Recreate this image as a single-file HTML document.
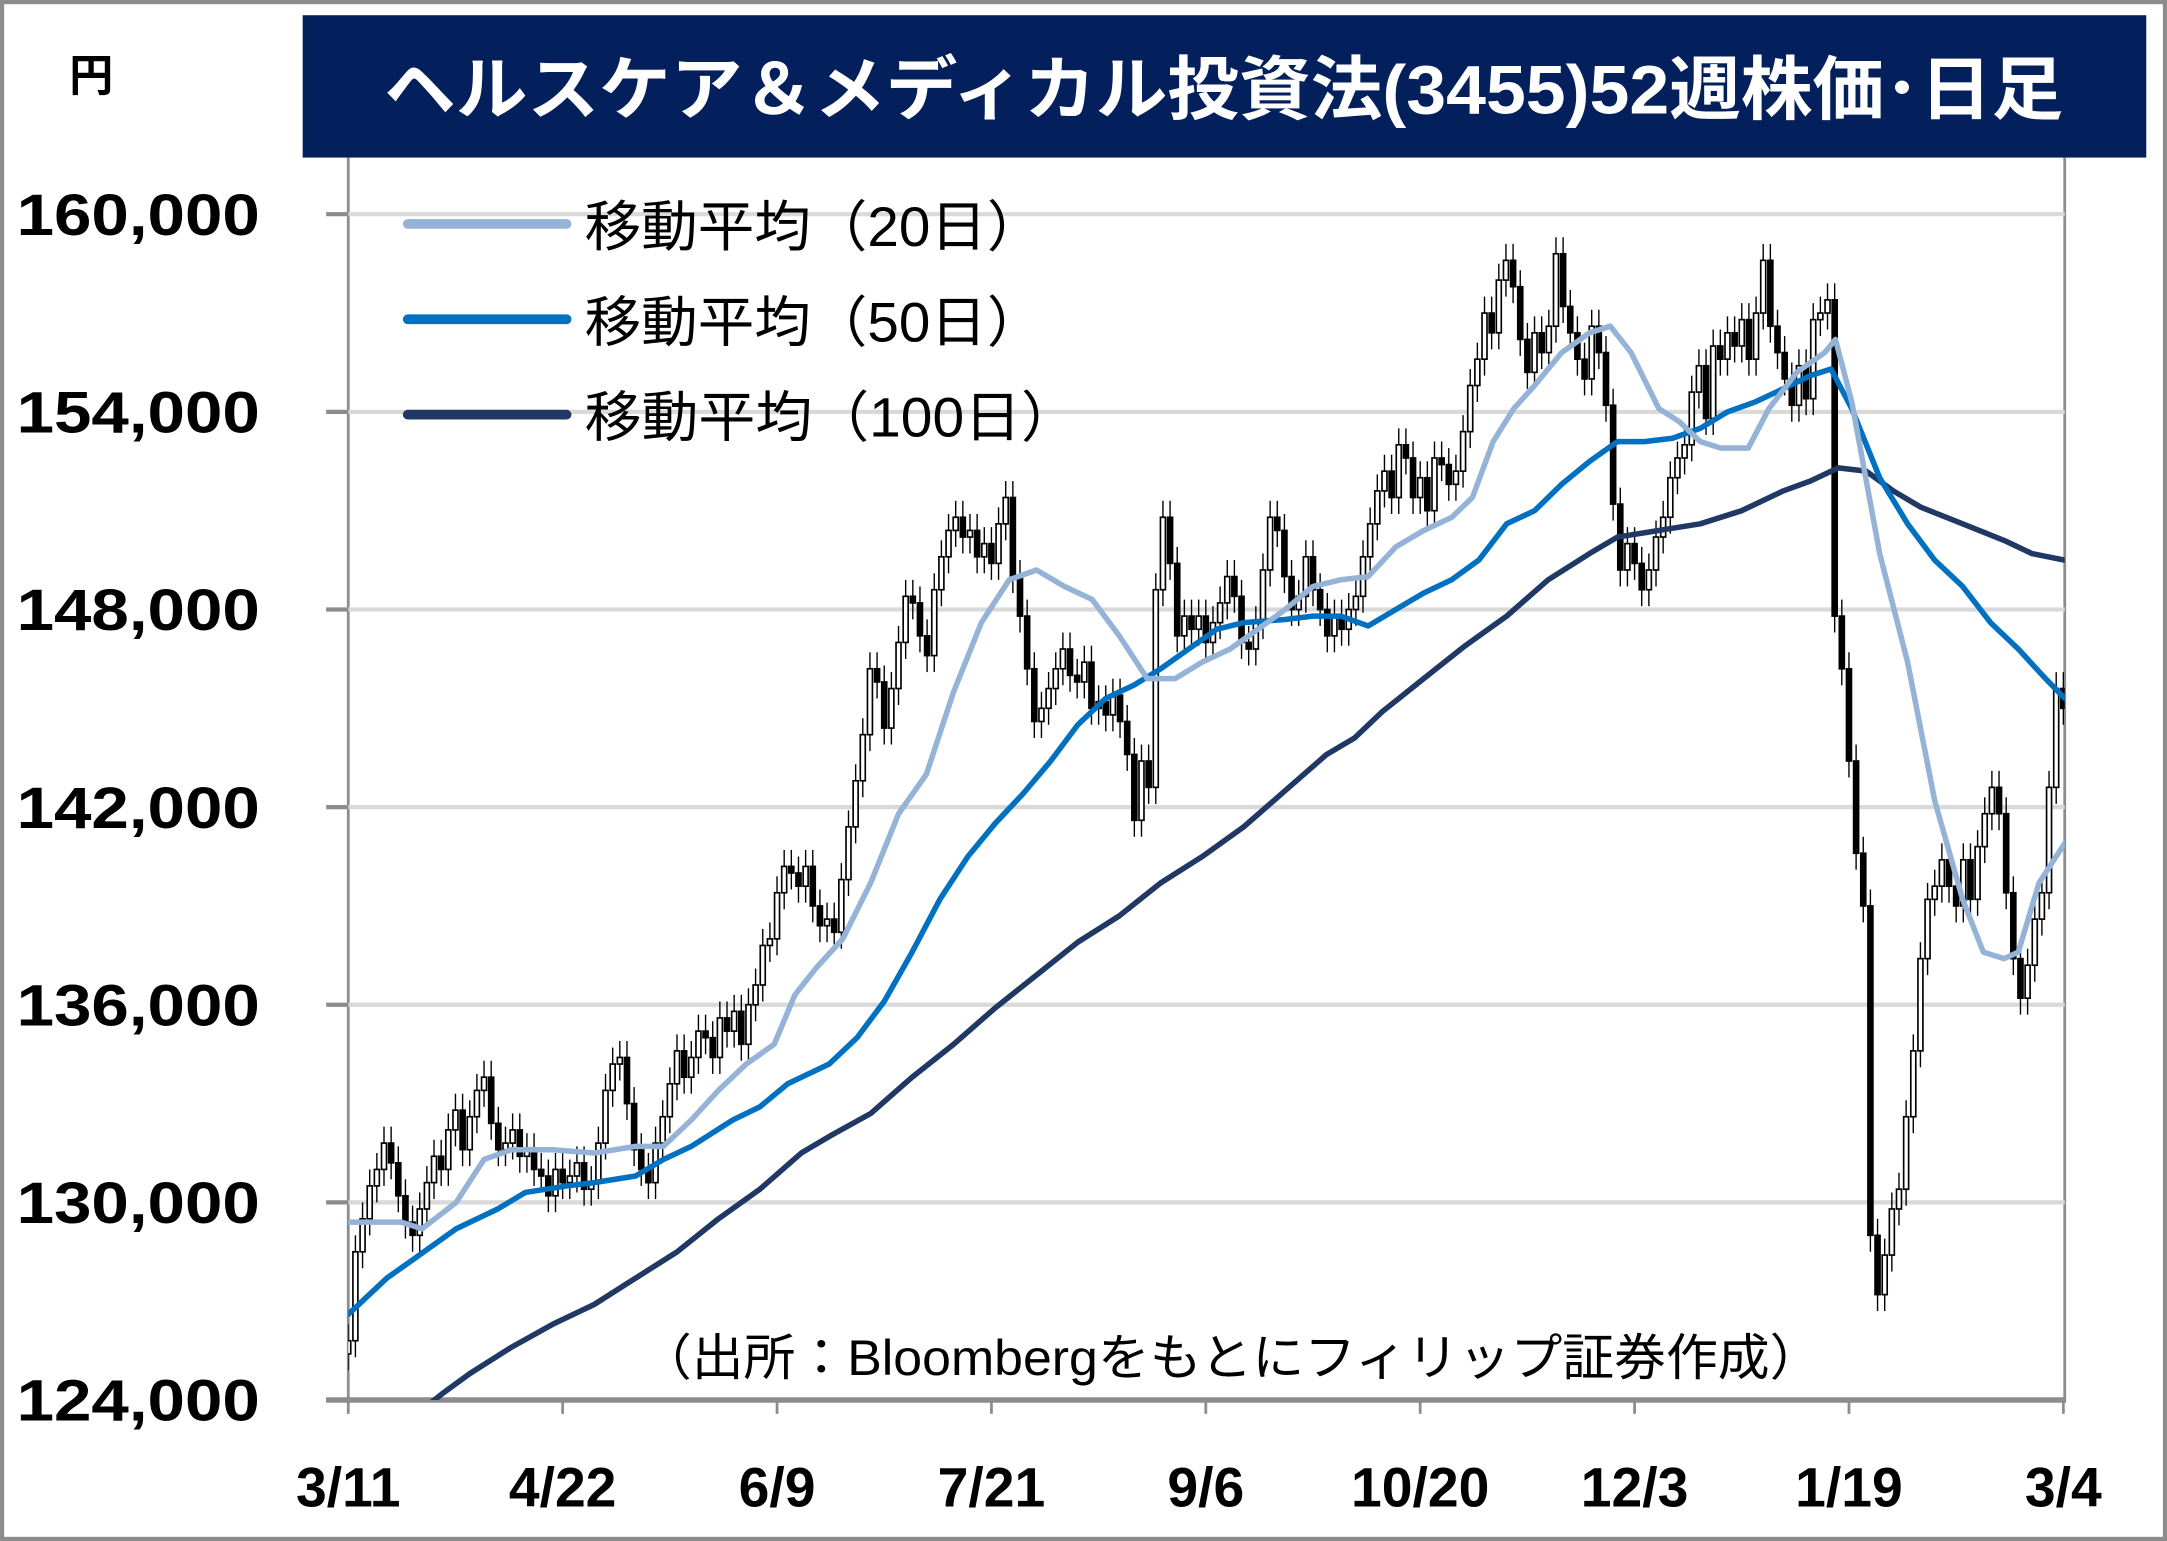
<!DOCTYPE html>
<html><head><meta charset="utf-8"><style>
html,body{margin:0;padding:0;background:#fff}
svg{display:block}
</style></head><body>
<svg id="chart" width="2167" height="1541" viewBox="0 0 1568 1115" xmlns="http://www.w3.org/2000/svg" font-family="'Liberation Sans','Noto Sans CJK JP',sans-serif">
<rect x="1.5" y="1.5" width="1565" height="1112" fill="#fff" stroke="#8c8c8c" stroke-width="3"/>
<rect x="219" y="11" width="1334" height="103" fill="#03205c"/>
<text x="278" y="82" fill="#fff" font-size="50" font-weight="bold" textLength="1215" lengthAdjust="spacingAndGlyphs">ヘルスケア＆メディカル投資法(3455)52週株価･日足</text>
<text x="50" y="66" font-size="32" font-weight="bold">円</text>
<line x1="252" y1="114" x2="252" y2="1013" stroke="#8c8c8c" stroke-width="2"/>
<line x1="1494" y1="114" x2="1494" y2="1013" stroke="#8c8c8c" stroke-width="2"/>
<g id="grid"></g>
<g id="ylabels"></g>
<g id="xaxis"></g>
<defs><clipPath id="plotclip"><rect x="252" y="114" width="1242" height="899"/></clipPath></defs>
<g id="candles" clip-path="url(#plotclip)"></g>
<g id="mas" clip-path="url(#plotclip)"></g>
<g>
<line x1="295" y1="162" x2="410" y2="162" stroke="#95b3d7" stroke-width="7" stroke-linecap="round"/>
<text x="423" y="178" font-size="40" textLength="332" lengthAdjust="spacingAndGlyphs">移動平均（20日）</text>
<line x1="295" y1="231" x2="410" y2="231" stroke="#0070c0" stroke-width="7" stroke-linecap="round"/>
<text x="423" y="247" font-size="40" textLength="332" lengthAdjust="spacingAndGlyphs">移動平均（50日）</text>
<line x1="295" y1="300" x2="410" y2="300" stroke="#1f3864" stroke-width="7" stroke-linecap="round"/>
<text x="423" y="316" font-size="40" textLength="357" lengthAdjust="spacingAndGlyphs">移動平均（100日）</text>
</g>
<text x="463" y="995" font-size="36" textLength="855" lengthAdjust="spacingAndGlyphs">（出所：Bloombergをもとにフィリップ証券作成）</text>
</svg>
<script>
const yTicks=[124000,130000,136000,142000,148000,154000,160000];
const yTickLabels=["124,000","130,000","136,000","142,000","148,000","154,000","160,000"];
const xTickDays=[0,30,60,90,120,150,180,210,240];
const xTickLabels=["3/11","4/22","6/9","7/21","9/6","10/20","12/3","1/19","3/4"];
const closes=[125.8,128.5,129.5,130.5,131.0,131.8,131.2,130.2,129.4,129.0,
129.8,130.6,131.4,131.0,132.2,132.8,131.6,132.6,133.4,133.8,
132.4,131.6,131.8,132.2,131.4,131.6,131.0,130.8,130.2,131.0,
130.6,130.8,131.2,130.4,130.6,131.8,133.4,134.2,134.4,133.0,
131.6,131.0,130.6,131.8,132.6,133.6,134.6,133.8,134.4,135.2,
135.0,134.4,135.6,135.2,135.8,134.8,136.0,136.6,137.8,138.0,
139.4,140.2,140.0,139.6,140.2,139.0,138.4,138.6,138.2,139.8,
141.4,142.8,144.2,146.2,145.8,144.4,145.6,147.0,148.4,148.2,
147.2,146.6,148.6,149.6,150.4,150.8,150.2,150.4,149.6,150.0,
149.4,150.6,151.4,149.0,147.8,146.2,144.6,145.0,145.6,146.2,
146.8,146.0,145.8,146.4,145.0,145.2,144.8,145.4,144.6,143.6,
141.6,143.4,142.6,148.6,150.8,149.4,147.2,147.8,147.4,147.8,
147.0,147.6,148.2,149.0,148.4,147.0,146.8,147.6,149.2,150.8,
150.4,149.0,148.0,148.4,149.6,148.6,148.0,147.2,147.8,147.4,
148.0,148.4,149.6,150.6,151.6,152.2,151.4,153.0,152.6,151.4,
152.0,151.0,152.6,152.4,151.8,152.2,153.4,154.8,155.6,157.0,
156.4,158.0,158.6,157.8,156.2,155.2,156.4,155.8,156.6,158.8,
157.2,156.4,155.6,155.0,156.6,155.8,154.2,151.2,149.2,150.0,
149.4,148.6,149.2,150.2,150.8,152.0,152.6,153.0,154.6,155.4,
153.8,156.0,155.6,156.4,156.0,156.8,155.6,157.0,158.6,156.6,
155.8,155.0,154.2,155.4,154.4,156.8,157.0,157.4,147.8,146.2,
143.4,140.6,139.0,129.0,127.2,128.4,129.8,130.4,132.6,134.6,
137.4,139.2,139.6,140.4,139.6,139.0,140.4,139.2,140.8,141.8,
142.6,141.8,139.4,137.4,136.2,137.2,138.6,139.4,142.6,145.6,
145.0];
const ma20Days=[0,4.4,7.4,10.3,15.1,19,22.8,28.6,34.4,40.2,44.1,48,51.8,55.7,59.6,62.5,65.4,69.2,73.1,77,80.9,84.7,88.6,92.5,96.3,100.2,104.1,107.9,111.8,115.7,119.5,123.4,127.3,131.1,135,138.9,142.7,146.6,150.5,154.4,157.3,160.2,163.1,166,169.8,173.7,176.6,179.5,183.4,186.3,189.2,192.1,195.9,198.8,202.7,206.6,208.1,210.4,214.3,218.2,222,225.9,228.8,231.7,233.7,236.6,240.2];
const ma20Vals=[129.4,129.4,129.4,129.2,130.0,131.3,131.6,131.6,131.5,131.7,131.7,132.5,133.4,134.2,134.8,136.3,137.1,138.0,139.7,141.8,143.0,145.5,147.6,148.9,149.2,148.7,148.3,147.2,145.9,145.9,146.4,146.8,147.4,148.0,148.7,148.9,149.0,149.9,150.4,150.8,151.4,153.1,154.1,154.8,155.8,156.4,156.6,155.8,154.1,153.7,153.1,152.9,152.9,154.1,155.2,155.8,156.2,154.3,149.7,146.4,142.2,139.2,137.6,137.4,137.6,139.7,140.9];
const ma50Days=[0,5.4,9.3,15.1,20.9,24.8,30.6,34.4,40.2,44.1,48,53.8,57.6,61.5,67.3,71.2,75,78.9,82.8,86.7,90.5,94.4,98.3,102.1,106,109.9,113.7,117.6,121.5,125.3,131.1,135,138.9,142.7,146.6,150.5,154.4,158.2,162.1,166,169.8,173.7,177.6,181.4,185.3,189.2,193,196.9,200.8,204.6,207.5,210.4,214.3,218.2,222,225.9,229.8,233.7,237.5,240.2];
const ma50Vals=[126.6,127.7,128.3,129.2,129.8,130.3,130.5,130.6,130.8,131.3,131.7,132.5,132.9,133.6,134.2,135.0,136.1,137.6,139.2,140.5,141.5,142.4,143.4,144.5,145.3,145.7,146.2,146.8,147.4,147.6,147.7,147.8,147.8,147.5,148.0,148.5,148.9,149.5,150.6,151.0,151.8,152.5,153.1,153.1,153.2,153.5,154.0,154.3,154.7,155.1,155.3,154.1,152.0,150.6,149.5,148.7,147.6,146.8,145.9,145.3];
const ma100Days=[10.3,13.2,17,22.8,28.6,34.4,40.2,46,51.8,57.6,63.4,67.3,73.1,78.9,84.7,90.5,96.3,102.1,107.9,113.7,119.5,125.3,131.1,136.9,140.8,144.7,150.5,156.3,162.1,167.9,173.7,177.6,183.4,189.2,195,200.8,204.6,208.5,212.4,216.2,220.1,225.9,231.7,235.6,240.2];
const ma100Vals=[123.7,124.2,124.8,125.6,126.3,126.9,127.7,128.5,129.5,130.4,131.5,132.0,132.7,133.8,134.8,135.9,136.9,137.9,138.7,139.7,140.5,141.4,142.5,143.6,144.1,144.9,145.9,146.9,147.8,148.9,149.7,150.2,150.4,150.6,151.0,151.6,151.9,152.3,152.2,151.6,151.1,150.6,150.1,149.7,149.5];

const NS='http://www.w3.org/2000/svg';
const X0=252,X1=1493,Y0=1013,Y1=155,D=240,VMIN=124,VMAX=160;
function xs(d){return X0+(X1-X0)*d/D;}
function ys(v){return Y0-(Y0-Y1)*(v-VMIN)/(VMAX-VMIN);}
function mk(tag,parent,attrs){const e=document.createElementNS(NS,tag);for(const k in attrs)e.setAttribute(k,attrs[k]);parent.appendChild(e);return e;}

const grid=document.getElementById('grid'),yl=document.getElementById('ylabels'),xa=document.getElementById('xaxis');
yTicks.forEach((t,i)=>{
  const y=ys(t/1000);
  if(i>0){const g=mk('line',grid,{x1:252,x2:1494,y1:y,y2:y,stroke:'#d9d9d9','stroke-width':3});
  
  }
  const tk=mk('line',grid,{x1:236,x2:252,y1:y,y2:y,stroke:'#8c8c8c','stroke-width':3});
  
  
  const tx=mk('text',yl,{x:188,y:y+15,'text-anchor':'end','font-size':42,'font-weight':'bold',textLength:176,lengthAdjust:'spacingAndGlyphs'});
  tx.textContent=yTickLabels[i];
  
  
});
const ax=mk('line',xa,{x1:236,x2:1495,y1:1013,y2:1013,stroke:'#8c8c8c','stroke-width':4});


xTickDays.forEach((d,i)=>{
  const x=xs(d);
  const t=mk('line',xa,{x1:x,x2:x,y1:1013,y2:1023,stroke:'#8c8c8c','stroke-width':2});
  
  
  const tx=mk('text',xa,{x:x,y:1090,'text-anchor':'middle','font-size':40,'font-weight':'bold'});
  tx.textContent=xTickLabels[i];
  
  
});

const cg=document.getElementById('candles');
closes.forEach((c,i)=>{
  const o=i>0?closes[i-1]:c-0.4;
  const hi=Math.max(o,c)+0.5,lo=Math.min(o,c)-0.5;
  const x=xs(i);
  const w=mk('line',cg,{x1:x,x2:x,y1:ys(hi),y2:ys(lo),stroke:'#000','stroke-width':1});
  
  
  const top=ys(Math.max(o,c)),bot=ys(Math.min(o,c));
  const r=mk('rect',cg,{x:x-1.8,y:top,width:3.6,height:Math.max(1,bot-top),fill:c>=o?'#fff':'#000',stroke:'#000','stroke-width':1.2});
  
  
});

const mg=document.getElementById('mas');
function line(days,vals,color,name){
  const pts=days.map((d,i)=>xs(d).toFixed(1)+','+ys(vals[i]).toFixed(1)).join(' ');
  const p=mk('polyline',mg,{points:pts,fill:'none',stroke:color,'stroke-width':4,'stroke-linejoin':'round','stroke-linecap':'round'});
  
  
}
line(ma100Days,ma100Vals,'#1f3864','ma100-line');
line(ma50Days,ma50Vals,'#0070c0','ma50-line');
line(ma20Days,ma20Vals,'#95b3d7','ma20-line');
</script>
</body></html>
